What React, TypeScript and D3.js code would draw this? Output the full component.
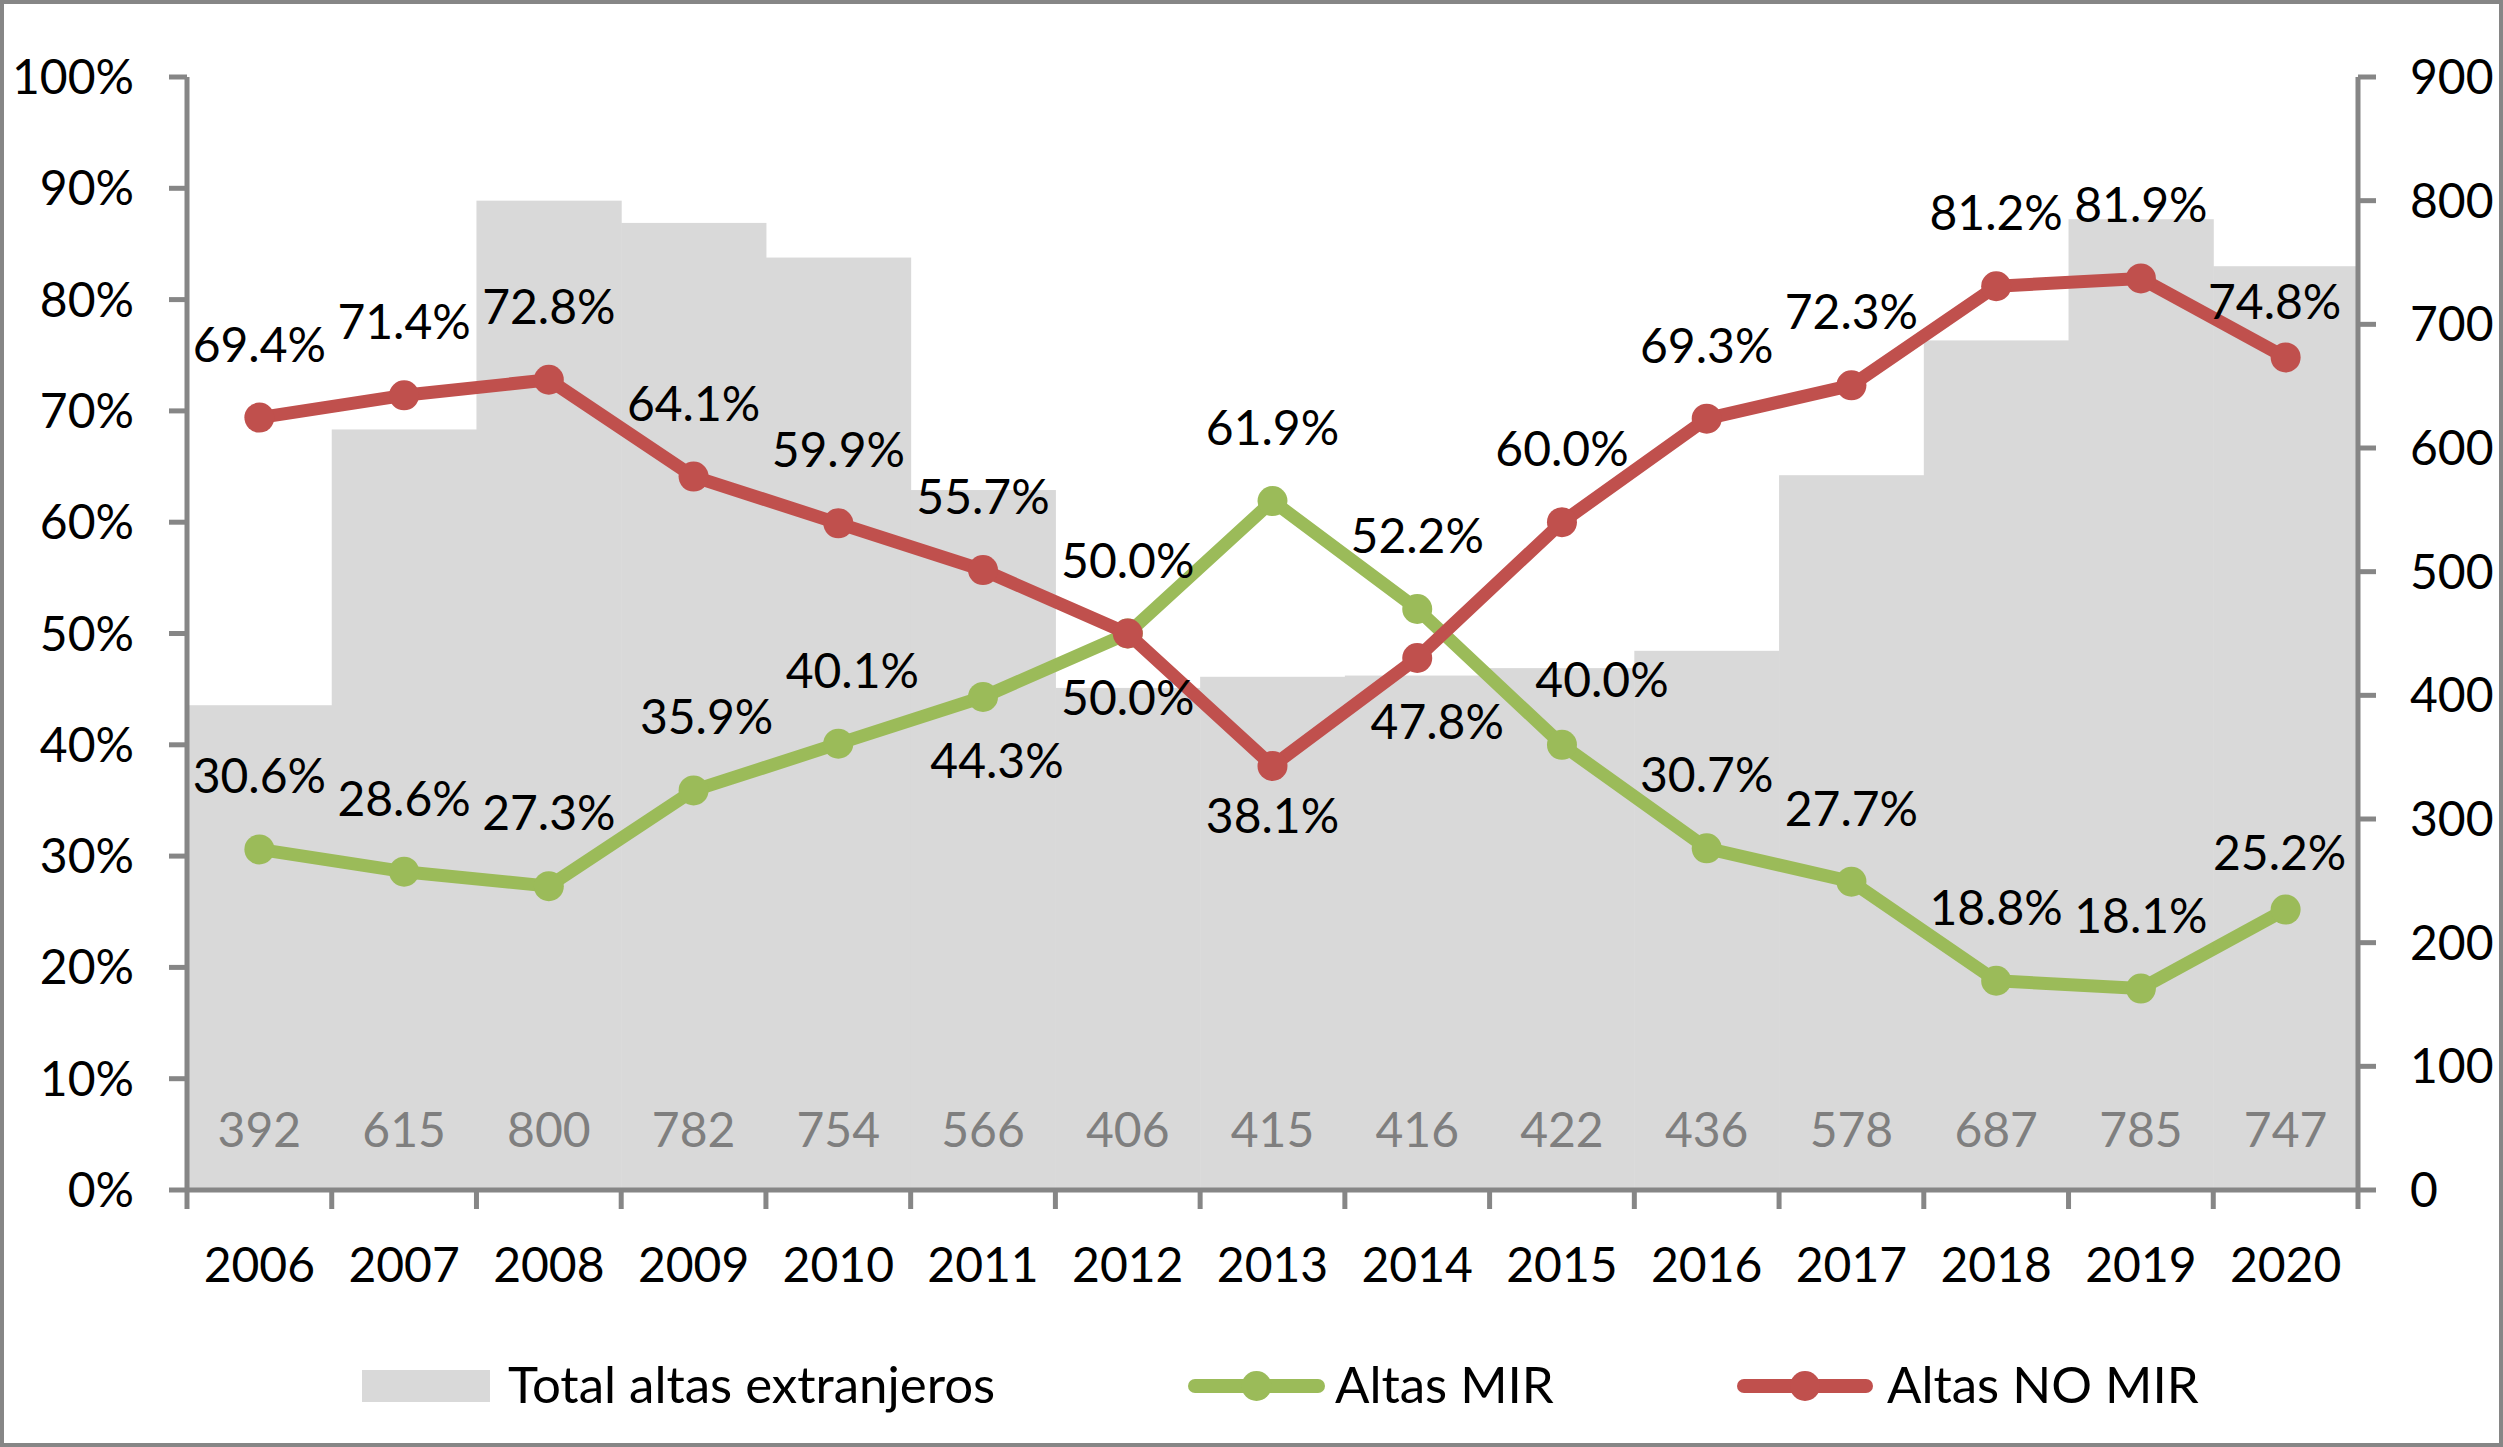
import React, { useEffect, useRef } from 'react';
import * as d3 from 'd3';

const years = ['2006', '2007', '2008', '2009', '2010', '2011', '2012', '2013', '2014', '2015', '2016', '2017', '2018', '2019', '2020'];
const totalAltas = [392, 615, 800, 782, 754, 566, 406, 415, 416, 422, 436, 578, 687, 785, 747];
const altasMir = [30.6, 28.6, 27.3, 35.9, 40.1, 44.3, 50.0, 61.9, 52.2, 40.0, 30.7, 27.7, 18.8, 18.1, 25.2];
const altasNoMir = [69.4, 71.4, 72.8, 64.1, 59.9, 55.7, 50.0, 38.1, 47.8, 60.0, 69.3, 72.3, 81.2, 81.9, 74.8];
const leftTicks = [0, 10, 20, 30, 40, 50, 60, 70, 80, 90, 100];
const rightTicks = [0, 100, 200, 300, 400, 500, 600, 700, 800, 900];

// label placement: a = above, b = below (Excel-like positions)
const mirPlace = ['a', 'a', 'a', 'a', 'a', 'b', 'b', 'a', 'a', 'a', 'a', 'a', 'a', 'a', 'a'];
const noMirPlace = ['a', 'a', 'a', 'a', 'a', 'a', 'a', 'b', 'b', 'a', 'a', 'a', 'a', 'a', 'a'];
const mirNudge: { [i: number]: [number, number] } = { 3: [13, 0], 4: [14, 0], 5: [14, 0], 9: [40, 8], 14: [-6, 16] };
const noMirNudge: { [i: number]: [number, number] } = { 7: [0, -14], 8: [20, 0], 14: [-11, 18] };

const W = 2503;
const H = 1447;
const margin = { left: 187, right: 2358, top: 77, bottom: 1190 };
const GREEN = '#9bbb59';
const RED = '#c0504d';
const AXIS = '#868686';
const FONT = 'Lato, "Open Sans", sans-serif';
const FS = 48;
const LEGEND_FS = 51;

export default function App() {
    const svgRef = useRef<SVGSVGElement | null>(null);

    useEffect(() => {
        if (!svgRef.current) return;
        const svg = d3.select(svgRef.current);
        svg.selectAll('*').remove();

        svg.append('rect')
            .attr('x', 2).attr('y', 2)
            .attr('width', W - 4).attr('height', H - 4)
            .attr('fill', 'white')
            .attr('stroke', AXIS)
            .attr('stroke-width', 4);

        const x = d3.scaleBand().domain(years).range([margin.left, margin.right]).padding(0);
        const yL = d3.scaleLinear().domain([0, 100]).range([margin.bottom, margin.top]);
        const yR = d3.scaleLinear().domain([0, 900]).range([margin.bottom, margin.top]);

        // bars
        svg.append('g')
            .selectAll('rect')
            .data(totalAltas)
            .join('rect')
            .attr('x', (_, i) => x(years[i])!)
            .attr('width', x.bandwidth() + 0.5)
            .attr('y', d => yR(d))
            .attr('height', d => margin.bottom - yR(d))
            .attr('fill', '#d9d9d9');

        svg.append('g')
            .selectAll('text')
            .data(totalAltas)
            .join('text')
            .attr('x', (_, i) => x(years[i])! + x.bandwidth() / 2)
            .attr('y', 1147)
            .attr('text-anchor', 'middle')
            .attr('font-family', FONT)
            .attr('font-size', FS)
            .attr('fill', '#7f7f7f')
            .text(d => d);

        // axes
        const axisG = svg.append('g').attr('stroke', AXIS).attr('stroke-width', 5);
        axisG.append('line').attr('x1', margin.left).attr('x2', margin.left).attr('y1', margin.top).attr('y2', margin.bottom + 2);
        axisG.append('line').attr('x1', margin.right).attr('x2', margin.right).attr('y1', margin.top).attr('y2', margin.bottom + 2);
        axisG.append('line').attr('x1', margin.left).attr('x2', margin.right).attr('y1', margin.bottom).attr('y2', margin.bottom);

        leftTicks.forEach(t => {
            axisG.append('line').attr('x1', margin.left - 18).attr('x2', margin.left).attr('y1', yL(t)).attr('y2', yL(t));
            svg.append('text')
                .attr('x', 134).attr('y', yL(t) + 17)
                .attr('text-anchor', 'end')
                .attr('font-family', FONT).attr('font-size', FS).attr('fill', '#000')
                .text(`${t}%`);
        });
        rightTicks.forEach(t => {
            axisG.append('line').attr('x1', margin.right).attr('x2', margin.right + 18).attr('y1', yR(t)).attr('y2', yR(t));
            svg.append('text')
                .attr('x', 2410).attr('y', yR(t) + 17)
                .attr('text-anchor', 'start')
                .attr('font-family', FONT).attr('font-size', FS).attr('fill', '#000')
                .text(t);
        });
        const bounds = years.map(y => x(y)!).concat([margin.right]);
        bounds.forEach(b => {
            axisG.append('line').attr('x1', b).attr('x2', b).attr('y1', margin.bottom).attr('y2', margin.bottom + 19);
        });
        years.forEach(y => {
            svg.append('text')
                .attr('x', x(y)! + x.bandwidth() / 2).attr('y', 1282)
                .attr('text-anchor', 'middle')
                .attr('font-family', FONT).attr('font-size', FS).attr('fill', '#000')
                .text(y);
        });

        // lines
        const cx = (i: number) => x(years[i])! + x.bandwidth() / 2;
        const line = d3.line<number>().x((_, i) => cx(i)).y(d => yL(d));

        const series = [
            { values: altasMir, color: GREEN, place: mirPlace, nudge: mirNudge },
            { values: altasNoMir, color: RED, place: noMirPlace, nudge: noMirNudge },
        ];
        series.forEach(s => {
            svg.append('path')
                .datum(s.values)
                .attr('d', line)
                .attr('fill', 'none')
                .attr('stroke', s.color)
                .attr('stroke-width', 13)
                .attr('stroke-linejoin', 'round');
            svg.append('g')
                .selectAll('circle')
                .data(s.values)
                .join('circle')
                .attr('cx', (_, i) => cx(i))
                .attr('cy', d => yL(d))
                .attr('r', 15)
                .attr('fill', s.color);
        });
        series.forEach(s => {
            svg.append('g')
                .selectAll('text')
                .data(s.values)
                .join('text')
                .attr('x', (_, i) => cx(i) + (s.nudge[i] ? s.nudge[i][0] : 0))
                .attr('y', (d, i) => yL(d) + (s.place[i] === 'a' ? -56 : 81) + (s.nudge[i] ? s.nudge[i][1] : 0))
                .attr('text-anchor', 'middle')
                .attr('font-family', FONT).attr('font-size', FS).attr('fill', '#000')
                .text(d => `${d.toFixed(1)}%`);
        });

        // legend
        const lg = svg.append('g');
        const ly = 1386;
        lg.append('rect').attr('x', 362).attr('y', ly - 16).attr('width', 128).attr('height', 32).attr('fill', '#d9d9d9');
        lg.append('text').attr('x', 508).attr('y', ly + 17)
            .attr('font-family', FONT).attr('font-size', LEGEND_FS).attr('fill', '#000')
            .text('Total altas extranjeros');
        const legendLines = [
            { x1: 1188, x2: 1325, text: 'Altas MIR', tx: 1335, color: GREEN },
            { x1: 1737, x2: 1873, text: 'Altas NO MIR', tx: 1887, color: RED },
        ];
        legendLines.forEach(l => {
            lg.append('line').attr('x1', l.x1 + 7).attr('x2', l.x2 - 7).attr('y1', ly).attr('y2', ly)
                .attr('stroke', l.color).attr('stroke-width', 14).attr('stroke-linecap', 'round');
            lg.append('circle').attr('cx', (l.x1 + l.x2) / 2).attr('cy', ly).attr('r', 15).attr('fill', l.color);
            lg.append('text').attr('x', l.tx).attr('y', ly + 17)
                .attr('font-family', FONT).attr('font-size', LEGEND_FS).attr('fill', '#000')
                .text(l.text);
        });
    }, []);

    return (
        <div style={{ position: 'absolute', left: 0, top: 0 }}>
            <svg ref={svgRef} width={W} height={H} style={{ display: 'block' }}></svg>
        </div>
    );
}
